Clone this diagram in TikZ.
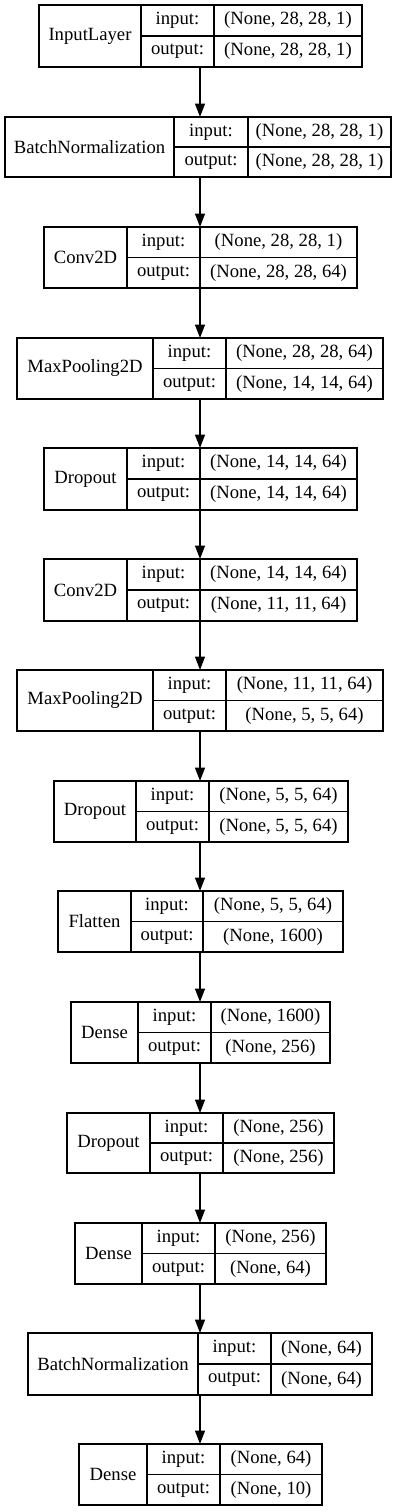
\documentclass[tikz,border=0pt]{standalone}
\usepackage{fontspec}
\setmainfont{Liberation Serif}
\usetikzlibrary{arrows.meta}
\tikzset{
  box/.style={draw=black, line width=1.3pt, inner sep=0pt, outer sep=0pt},
  cellline/.style={draw=black, line width=1.3pt},
  txt/.style={inner sep=0pt, font=\fontsize{18.67}{20}\selectfont},
  arr/.style={draw=black, line width=1.3pt, -{Triangle[length=13.5pt, width=10pt]}},
}
\begin{document}
\begin{tikzpicture}[x=1pt, y=-1pt]
\useasboundingbox (0,0) rectangle (401,1512);
\coordinate (ax) at (200,0);
\foreach \id/\t/\b/\l/\da/\db/\r/\nm/\vin/\vout in {
 1/5/67/39/141/214/362/InputLayer/{(None, 28, 28, 1)}/{(None, 28, 28, 1)},
 2/117/177/5/174/248/391/BatchNormalization/{(None, 28, 28, 1)}/{(None, 28, 28, 1)},
 3/227/288/44/127/200/357/Conv2D/{(None, 28, 28, 1)}/{(None, 28, 28, 64)},
 4/338/399/17/153/226/383/MaxPooling2D/{(None, 28, 28, 64)}/{(None, 14, 14, 64)},
 5/448/510/44/127/200/357/Dropout/{(None, 14, 14, 64)}/{(None, 14, 14, 64)},
 6/559/621/44/127/200/357/Conv2D/{(None, 14, 14, 64)}/{(None, 11, 11, 64)},
 7/670/731/17/153/226/383/MaxPooling2D/{(None, 11, 11, 64)}/{(None, 5, 5, 64)},
 8/781/842/54/136/209/348/Dropout/{(None, 5, 5, 64)}/{(None, 5, 5, 64)},
 9/891/952/58/131/203/343/Flatten/{(None, 5, 5, 64)}/{(None, 1600)},
 10/1002/1063/71/138/211/330/Dense/{(None, 1600)}/{(None, 256)},
 11/1113/1173/67/150/223/334/Dropout/{(None, 256)}/{(None, 256)},
 12/1223/1284/75/142/215/326/Dense/{(None, 256)}/{(None, 64)},
 13/1333/1395/28/198/271/372/BatchNormalization/{(None, 64)}/{(None, 64)},
 14/1444/1505/79/147/220/322/Dense/{(None, 64)}/{(None, 10)}}
{
  \pgfmathsetmacro\cx{(\l+\r)/2}
  \pgfmathsetmacro\cy{(\t+\b)/2}
  \pgfmathsetmacro\w{\r-\l}
  \pgfmathsetmacro\h{\b-\t}
  \node[box, minimum width=\w pt, minimum height=\h pt] (b\id) at (\cx,\cy) {};
  \draw[cellline] (\da,\t) -- (\da,\b);
  \draw[cellline] (\db,\t) -- (\db,\b);
  \draw[cellline] (\da,\cy) -- (\r,\cy);
  \node[txt] (n\id) at ({(\l+\da)/2},\cy) {\nm};
  \node[txt] (i\id) at ({(\da+\db)/2},{(\t+\cy)/2}) {input:};
  \node[txt] (o\id) at ({(\da+\db)/2},{(\cy+\b)/2}) {output:};
  \node[txt] (vi\id) at ({(\db+\r)/2},{(\t+\cy)/2}) {\vin};
  \node[txt] (vo\id) at ({(\db+\r)/2},{(\cy+\b)/2}) {\vout};
}
\foreach \i [evaluate=\i as \j using int(\i+1)] in {1,...,13}
  \draw[arr] (b\i.south -| ax) -- (b\j.north -| ax);
\end{tikzpicture}
\end{document}
